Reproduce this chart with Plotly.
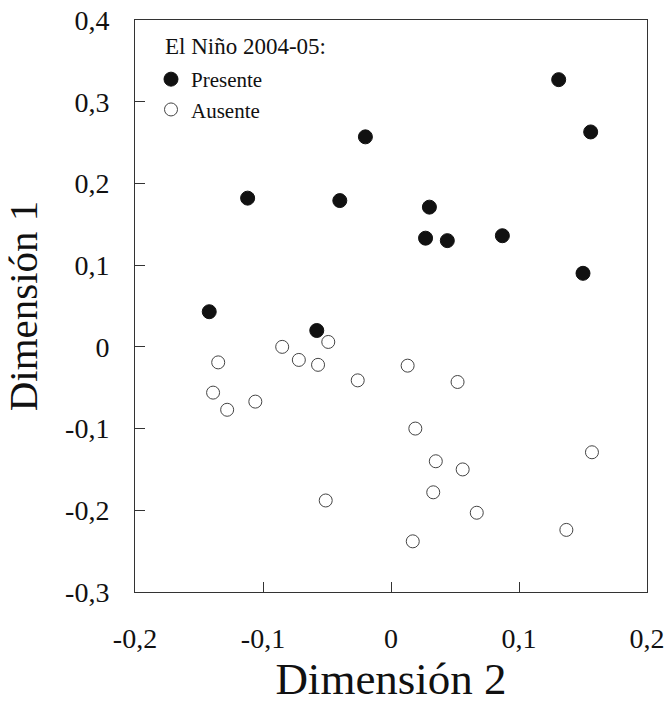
import plotly.graph_objects as go

# Data
presente_x = [-0.142, -0.112, -0.058, -0.040, -0.020, 0.030, 0.027, 0.044, 0.087, 0.131, 0.156, 0.150]
presente_y = [0.043, 0.182, 0.020, 0.179, 0.257, 0.171, 0.133, 0.130, 0.136, 0.327, 0.263, 0.090]

ausente_x = [-0.135, -0.139, -0.128, -0.106, -0.085, -0.072, -0.057, -0.049, -0.051, -0.026,
             0.013, 0.052, 0.019, 0.035, 0.056, 0.033, 0.067, 0.017, 0.137, 0.157]
ausente_y = [-0.019, -0.056, -0.077, -0.067, 0.000, -0.016, -0.022, 0.006, -0.188, -0.041,
             -0.023, -0.043, -0.100, -0.140, -0.150, -0.178, -0.203, -0.238, -0.224, -0.129]

xtick_vals = [-0.2, -0.1, 0, 0.1, 0.2]
xtick_text = ["-0,2", "-0,1", "0", "0,1", "0,2"]
ytick_vals = [-0.3, -0.2, -0.1, 0, 0.1, 0.2, 0.3, 0.4]
ytick_text = ["-0,3", "-0,2", "-0,1", "0", "0,1", "0,2", "0,3", "0,4"]

legend_title = "El Niño 2004-05:"

FONT = "Liberation Serif, Times New Roman, serif"

W, H = 668, 704
ML, MR, MT, MB = 135, 21, 20, 112
pw = W - ML - MR
ph = H - MT - MB

fig = go.Figure()
fig.add_trace(go.Scatter(
    x=presente_x, y=presente_y, mode="markers", name="Presente",
    marker=dict(size=14, color="#111111", line=dict(color="#111111", width=1)),
))
fig.add_trace(go.Scatter(
    x=ausente_x, y=ausente_y, mode="markers", name="Ausente",
    marker=dict(size=13, color="white", line=dict(color="#444444", width=1)),
))

axis_common = dict(
    showline=True, linecolor="#333333", linewidth=1, mirror=True,
    ticks="inside", ticklen=10, tickcolor="#333333", tickwidth=1,
    showgrid=False, zeroline=False, automargin=False,
    tickfont=dict(family=FONT, size=28, color="#111111"),
)

fig.update_layout(
    width=W, height=H,
    margin=dict(l=ML, r=MR, t=MT, b=MB),
    paper_bgcolor="white", plot_bgcolor="white",
    font=dict(family=FONT, color="#111111"),
    xaxis=dict(range=[-0.2, 0.2], tickvals=xtick_vals, ticktext=xtick_text,
               ticklabelstandoff=21,
               title=dict(text="Dimensión 2", font=dict(family=FONT, size=45), standoff=12),
               **axis_common),
    yaxis=dict(range=[-0.3, 0.4], tickvals=ytick_vals, ticktext=ytick_text,
               ticklabelstandoff=19,
               title=dict(text="Dimensión 1", font=dict(family=FONT, size=41), standoff=14),
               **axis_common),
    showlegend=True,
    legend=dict(
        x=(151 - ML) / pw, y=1 - (59 - MT) / ph, xanchor="left", yanchor="top",
        font=dict(family=FONT, size=21, color="#111111"),
        bgcolor="rgba(0,0,0,0)", itemwidth=30, tracegroupgap=0,
    ),
    annotations=[dict(
        text=legend_title, x=(163 - ML) / pw, y=(MT + ph - 47) / ph,
        xref="paper", yref="paper", xanchor="left", yanchor="middle",
        showarrow=False, font=dict(family=FONT, size=23, color="#111111"),
    )],
)

fig.write_html("out.html", config={"displayModeBar": False},
               post_script="document.body.style.margin='0';")
